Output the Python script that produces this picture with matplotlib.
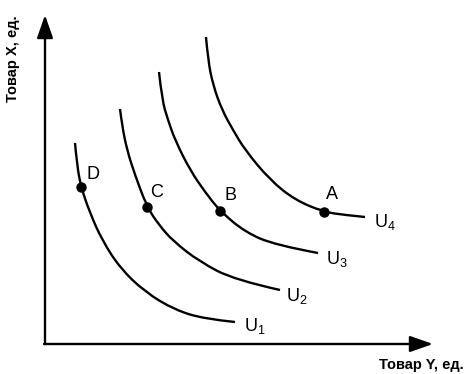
import numpy as np
import matplotlib
matplotlib.use("Agg")
import matplotlib.pyplot as plt
from matplotlib.path import Path
from matplotlib.patches import PathPatch

plt.rcParams['font.family'] = ['Liberation Sans', 'DejaVu Sans']
plt.rcParams['mathtext.fontset'] = 'custom'
plt.rcParams['mathtext.rm'] = 'Liberation Sans'
plt.rcParams['mathtext.it'] = 'Liberation Sans:italic'

# indifference curves (Товар Y on x, Товар X on y)
u1_x = [30, 32, 36, 45, 57, 75, 100, 130, 160, 190]
u1_y = [201, 179, 157, 131, 104, 76, 52, 34, 25, 22]
u2_x = [75, 77, 82, 90, 102, 114, 128, 155, 190, 235]
u2_y = [235, 219, 194, 169, 137, 119, 103, 82, 64, 54]
u3_x = [114, 117, 123, 130, 145, 160, 175, 200, 230, 273]
u3_y = [272, 244, 224, 204, 174, 152, 133, 112, 99, 91]
u4_x = [161, 163, 168, 177, 188, 200, 225, 250, 279, 300, 320]
u4_y = [307, 284, 259, 234, 214, 194, 164, 144, 132, 129, 127]

curves_x = [u1_x, u2_x, u3_x, u4_x]
curves_y = [u1_y, u2_y, u3_y, u4_y]
curve_names = ["U$_1$", "U$_2$", "U$_3$", "U$_4$"]
curve_label_pos = [(210, 18), (252, 48), (292, 85), (340, 122)]

# marked bundles
point_names = ["D", "C", "B", "A"]
point_x = [36, 102, 175, 279]
point_y = [157, 137, 133, 132]
point_label_pos = [(48, 170), (112, 152), (186, 149), (287, 150)]


def smooth_path(xs, ys):
    # quadratic b-spline through the read points, drawn by matplotlib's path
    pts = list(zip(xs, ys))
    verts = [pts[0]]
    codes = [Path.MOVETO]
    for i in range(1, len(pts) - 2):
        mid = ((pts[i][0] + pts[i + 1][0]) / 2, (pts[i][1] + pts[i + 1][1]) / 2)
        verts += [pts[i], mid]
        codes += [Path.CURVE3, Path.CURVE3]
    verts += [pts[-2], pts[-1]]
    codes += [Path.CURVE3, Path.CURVE3]
    return Path(verts, codes)


fig = plt.figure(figsize=(4.70, 3.74), dpi=100)
ax = fig.add_axes([0, 0, 1, 1])
ax.set_xlim(-45, 425)
ax.set_ylim(-30, 344)
ax.axis('off')

for cx, cy in zip(curves_x, curves_y):
    ax.add_patch(PathPatch(smooth_path(cx, cy), facecolor='none', edgecolor='black',
                           lw=1.7, capstyle='butt'))

ax.plot(point_x, point_y, 'o', color='black', markersize=6.5)

for name, (lx, ly) in zip(point_names, point_label_pos):
    ax.text(lx, ly, name, fontsize=13, ha='center', va='center')
for name, (lx, ly) in zip(curve_names, curve_label_pos):
    ax.text(lx, ly, name, fontsize=13, ha='center', va='center')

arrow = dict(arrowstyle='-|>,head_length=1.0,head_width=0.35', mutation_scale=14,
             color='black', lw=1.7, shrinkA=0, shrinkB=0)
ax.annotate("", xy=(0, 329), xytext=(0, 0), arrowprops=arrow)
ax.annotate("", xy=(388, 0), xytext=(-1, 0), arrowprops=arrow)

ax.text(376, -21, "Товар Y, ед.", fontsize=10.5, fontweight='bold', ha='center', va='center')
ax.text(-32, 285, "Товар X, ед.", fontsize=10.5, fontweight='bold', rotation=90,
        ha='center', va='center')

fig.savefig("out.png", dpi=100)
